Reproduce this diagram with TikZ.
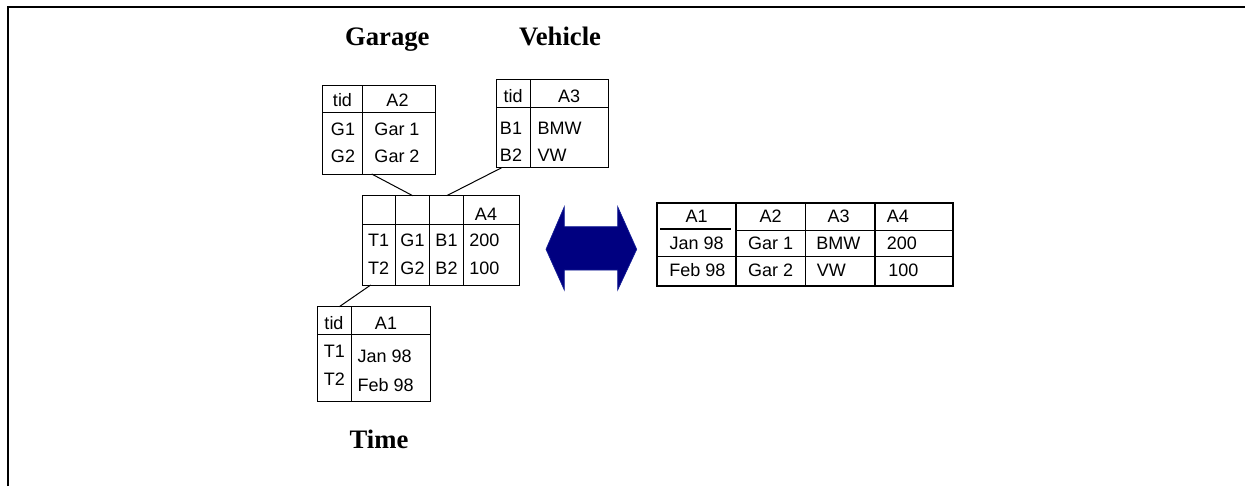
\documentclass[tikz,border=0pt]{standalone}
\usepackage{fontspec}
\setmainfont{Liberation Sans}
\newfontfamily\titlefont{Liberation Serif}
\usetikzlibrary{fit}
\definecolor{arrownavy}{RGB}{0,0,128}
\definecolor{arrowedge}{RGB}{20,30,150}
\begin{document}
\begin{tikzpicture}[x=0.75pt,y=-0.75pt,
  tbox/.style={draw, line width=0.75pt, inner sep=0pt, fit=#1},
  bigbox/.style={draw, line width=1.5pt, inner sep=0pt, fit=#1},
  cell/.style={anchor=base, inner sep=0pt, font=\fontsize{13.5}{15}\selectfont},
  lcell/.style={cell, anchor=base west},
  title/.style={anchor=base, inner sep=0pt, font=\titlefont\bfseries\fontsize{20}{22}\selectfont},
  grid/.style={line width=0.75pt},
  thickgrid/.style={line width=1.5pt},
  link/.style={line width=0.75pt},
]
\useasboundingbox (0,0) rectangle (1245,486);
% frame
\draw[line width=1.5pt] (8,486) -- (8,7) -- (1245,7);

% titles
\node[title] (tGarage) at (387.3,45) {Garage};
\node[title] (tVehicle) at (560,45) {Vehicle};
\node[title] (tTime) at (379,448.3) {Time};

% Garage table
\coordinate (ga1) at (322.7,85); \coordinate (ga2) at (435,174);
\node[tbox={(ga1)(ga2)}] (garage) {};
\draw[grid] (362.3,85) -- (362.3,174);
\draw[grid] (322.7,112.7) -- (435,112.7);
\node[cell] (g-tid) at (342.5,106.2) {tid};
\node[cell] (g-a2) at (397.5,106.2) {A2};
\node[cell] (g-g1) at (343,135.5) {G1};
\node[cell] (g-g2) at (343,162.9) {G2};
\node[cell] (g-n1) at (397,135.5) {Gar 1};
\node[cell] (g-n2) at (397,162.9) {Gar 2};

% Vehicle table
\coordinate (va1) at (496.7,79.3); \coordinate (va2) at (608.3,167.7);
\node[tbox={(va1)(va2)}] (vehicle) {};
\draw[grid] (530,79.3) -- (530,167.7);
\draw[grid] (496.7,107.3) -- (608.3,107.3);
\node[cell] (v-tid) at (513,102.9) {tid};
\node[cell] (v-a3) at (569,102.9) {A3};
\node[cell] (v-b1) at (511,134.5) {B1};
\node[cell] (v-b2) at (511,161.2) {B2};
\node[lcell] (v-n1) at (537.3,134.5) {BMW};
\node[lcell] (v-n2) at (537.3,161.2) {VW};

% Fact table
\coordinate (fa1) at (362.3,195.7); \coordinate (fa2) at (519,285);
\node[tbox={(fa1)(fa2)}] (fact) {};
\draw[grid] (395.7,195.7) -- (395.7,285);
\draw[grid] (429.3,195.7) -- (429.3,285);
\draw[grid] (463,195.7) -- (463,285);
\draw[grid] (362.3,224) -- (519,224);
\node[cell] (f-a4) at (486,220.5) {A4};
\node[cell] (f-t1) at (378.5,246.2) {T1};
\node[cell] (f-t2) at (378.5,274.5) {T2};
\node[cell] (f-g1) at (412.5,246.2) {G1};
\node[cell] (f-g2) at (412.5,274.5) {G2};
\node[cell] (f-b1) at (446.5,246.2) {B1};
\node[cell] (f-b2) at (446.5,274.5) {B2};
\node[lcell] (f-v1) at (469,246.2) {200};
\node[lcell] (f-v2) at (469,274.5) {100};

% Time table
\coordinate (ta1) at (317.3,306.7); \coordinate (ta2) at (430,401.7);
\node[tbox={(ta1)(ta2)}] (time) {};
\draw[grid] (351,306.7) -- (351,401.7);
\draw[grid] (317.3,334.3) -- (430,334.3);
\node[cell] (t-tid) at (334,329.5) {tid};
\node[cell] (t-a1) at (386,329.5) {A1};
\node[cell] (t-t1) at (334.3,357.2) {T1};
\node[cell] (t-t2) at (334.3,385.5) {T2};
\node[lcell] (t-n1) at (357.3,362.9) {Jan 98};
\node[lcell] (t-n2) at (357.3,391.2) {Feb 98};

% connectors
\coordinate (gLink) at (371.7,174);
\coordinate (fLinkG) at (412.7,195.7);
\coordinate (vLink) at (501.7,167.7);
\coordinate (fLinkV) at (446.7,195.7);
\coordinate (fLinkT) at (370.7,285);
\coordinate (tLink) at (339.3,306.7);
\draw[link] (gLink) -- (fLinkG);
\draw[link] (vLink) -- (fLinkV);
\draw[link] (fLinkT) -- (tLink);

% double arrow
\fill[arrownavy, draw=arrowedge, line width=0.5pt]
  (546,249.3) -- (564.3,206.7) -- (564.3,226.7) -- (617.7,226.7) -- (617.7,206.7)
  -- (636.7,249.3) -- (617.7,290) -- (617.7,270) -- (564.3,270) -- (564.3,290) -- cycle;

% result table
\coordinate (ra1) at (657.3,202.7); \coordinate (ra2) at (952.7,285.7);
\node[bigbox={(ra1)(ra2)}] (result) {};
\draw[thickgrid] (736,202.7) -- (736,285.7);
\draw[grid] (805.7,202.7) -- (805.7,285.7);
\draw[thickgrid] (875,202.7) -- (875,285.7);
\draw[grid] (736,230) -- (952.7,230);
\draw[thickgrid] (660,228.6) -- (730.7,228.6);
\draw[grid] (657.3,256.7) -- (952.7,256.7);
\node[cell] (r-a1) at (696.7,222.9) {A1};
\node[cell] (r-a2) at (770.5,222.9) {A2};
\node[cell] (r-a3) at (838.5,222.9) {A3};
\node[lcell] (r-a4) at (886.7,222.9) {A4};
\node[cell] (r-j) at (696.7,249.5) {Jan 98};
\node[cell] (r-f) at (697.5,276.2) {Feb 98};
\node[cell] (r-g1) at (770.7,249.5) {Gar 1};
\node[cell] (r-g2) at (770.7,276.2) {Gar 2};
\node[lcell] (r-b) at (816,249.5) {BMW};
\node[lcell] (r-v) at (816.7,276.2) {VW};
\node[lcell] (r-200) at (886.7,249.5) {200};
\node[lcell] (r-100) at (888,276.2) {100};
\end{tikzpicture}
\end{document}
